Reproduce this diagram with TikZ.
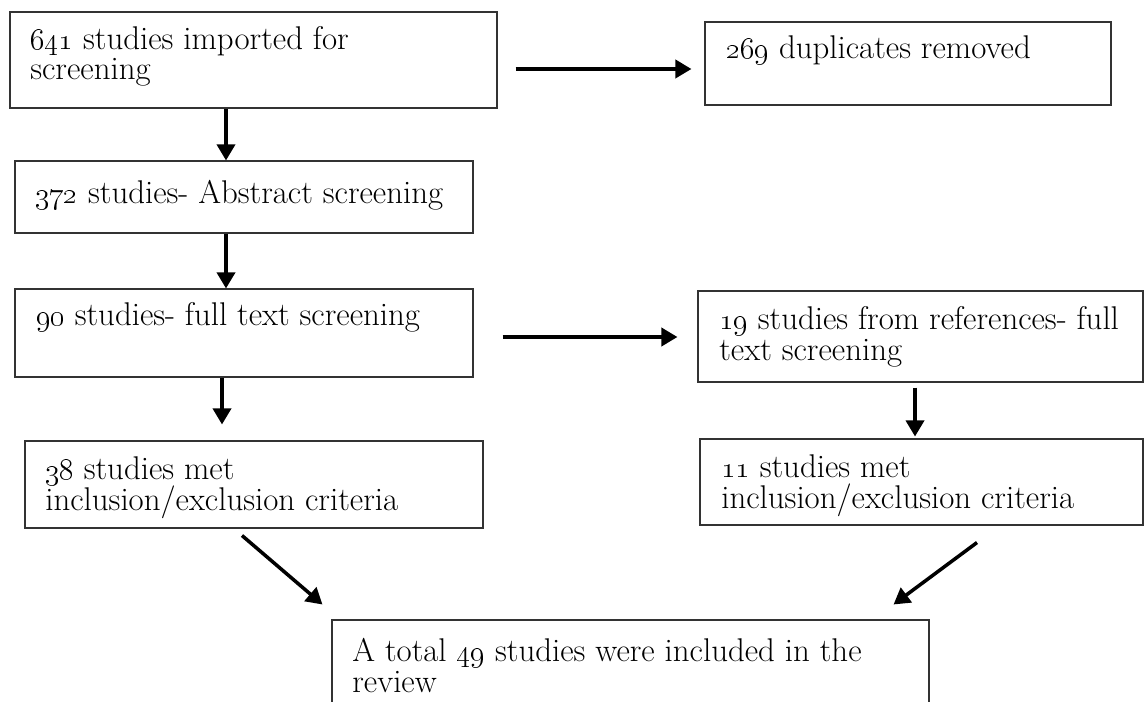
\documentclass[tikz,border=0pt]{standalone}
\usepackage{tikz}
\usetikzlibrary{positioning,calc,arrows.meta}

\tikzset{
  flowbox/.style={rectangle,draw=black!80,line width=0.6pt,inner sep=0pt},
  flowtext/.style={anchor=base west,align=left,inner sep=0pt,font=\fontsize{18.7}{17.6}\selectfont},
  flowarrow/.style={line width=2pt,-{Triangle[length=0.32cm,width=0.36cm]}}
}

\begin{document}
\begin{tikzpicture}
\useasboundingbox (0,0) rectangle (22.9,14.02);
\clip (0,0) rectangle (22.9,14.02);
% boxes
\node[flowbox,minimum width=9.74cm,minimum height=1.92cm] (imported) at (5.07,12.82) {};
\node[flowbox,minimum width=8.12cm,minimum height=1.66cm] (duplicates) at (18.16,12.75) {};
\node[flowbox,minimum width=9.16cm,minimum height=1.44cm] (abstract) at (4.88,10.08) {};
\node[flowbox,minimum width=9.16cm,minimum height=1.76cm] (fulltext) at (4.88,7.36) {};
\node[flowbox,minimum width=8.9cm,minimum height=1.82cm] (references) at (18.41,7.29) {};
\node[flowbox,minimum width=9.16cm,minimum height=1.74cm] (metleft) at (5.08,4.33) {};
\node[flowbox,minimum width=8.86cm,minimum height=1.72cm] (metright) at (18.43,4.38) {};
\node[flowbox,minimum width=11.94cm,minimum height=2cm] (total) at (12.61,0.62) {};
% texts (two-line texts sit on their last line)
\node[flowtext] (imported-text) at (0.6,12.42) {\oldstylenums{641} studies imported for\\screening};
\node[flowtext] (duplicates-text) at (14.52,12.84) {\oldstylenums{269} duplicates removed};
\node[flowtext] (abstract-text) at (0.7,9.96) {\oldstylenums{372} studies- Abstract screening};
\node[flowtext] (fulltext-text) at (0.72,7.52) {\oldstylenums{90} studies- full text screening};
\node[flowtext] (references-text) at (14.38,6.82) {\oldstylenums{19} studies from references- full\\text screening};
\node[flowtext] (metleft-text) at (0.9,3.82) {\oldstylenums{38} studies met\\inclusion/exclusion criteria};
\node[flowtext] (metright-text) at (14.42,3.86) {\oldstylenums{11} studies met\\inclusion/exclusion criteria};
\node[flowtext] (total-text) at (7.04,0.18) {A total \oldstylenums{49} studies were included in the\\review};
% horizontal arrows
\coordinate (ab) at ([yshift=-1.8mm]imported.east);
\draw[flowarrow,shorten <=0.36cm,shorten >=0.26cm] (ab) -- (ab -| duplicates.west);
\coordinate (de) at ([yshift=-0.8mm]fulltext.east);
\draw[flowarrow,shorten <=0.58cm,shorten >=0.4cm] (de) -- (de -| references.west);
% vertical arrows
\foreach \from/\to/\dx/\ga/\gb in {imported/abstract/-0.55/0/0,
    abstract/fulltext/-0.36/0/0,
    fulltext/metleft/-0.44/0/0.32,
    references/metright/-0.11/0.1/0.04} {
  \draw[flowarrow,shorten <=\ga cm,shorten >=\gb cm] ($(\from.south)+(\dx,0)$) -- ($(\from.south |- \to.north)+(\dx,0)$);
}
% to the total
\draw[flowarrow] ($(metleft.south)+(-0.24,-0.14)$) -- ($(total.north west)+(-0.18,0.30)$);
\draw[flowarrow] ($(metright.south)+(1.11,-0.34)$) -- ($(total.north east)+(-0.72,0.30)$);
\end{tikzpicture}
\end{document}
